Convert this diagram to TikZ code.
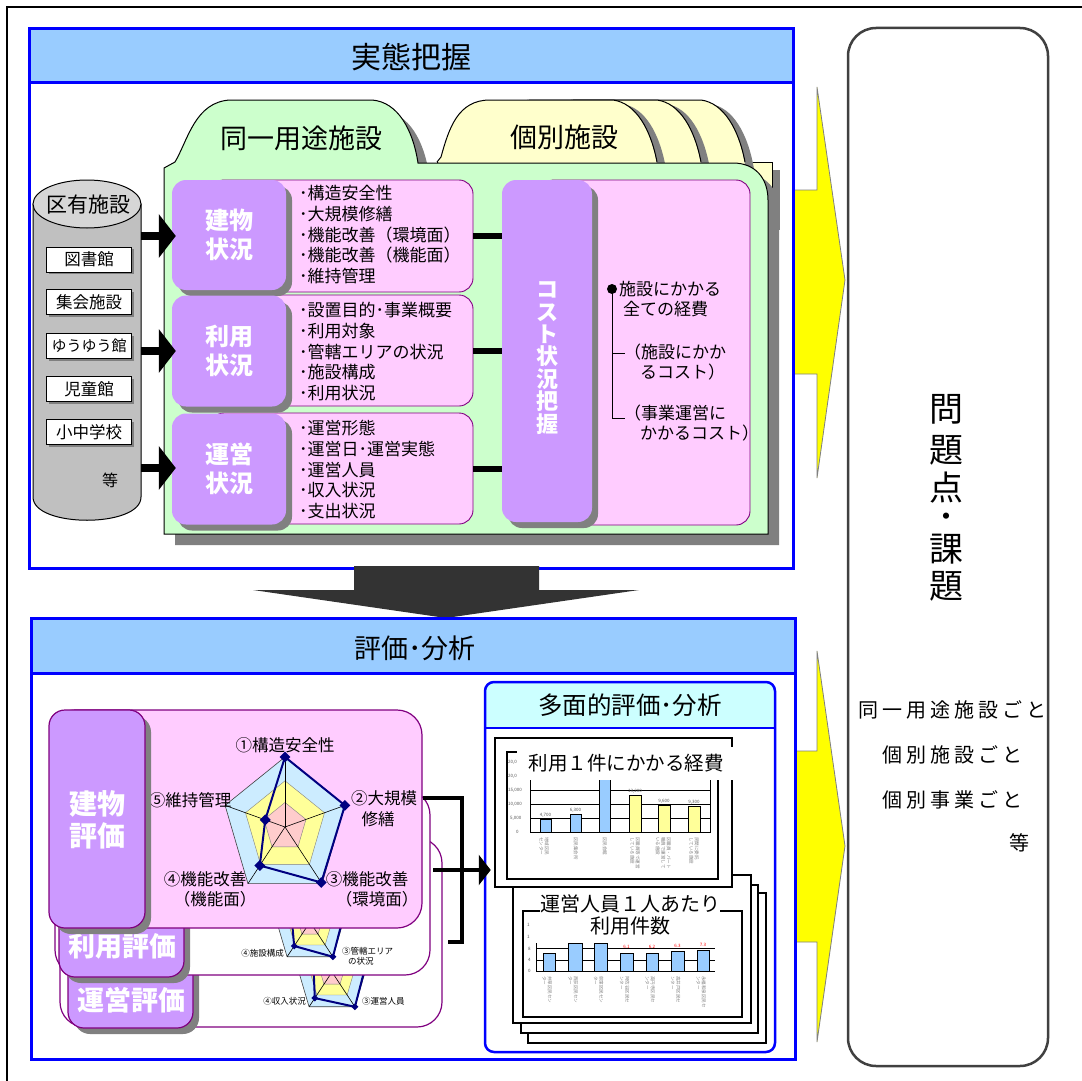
\documentclass[tikz,border=0pt]{standalone}
\usepackage{fontspec}
\setmainfont{Noto Sans CJK JP}
\usetikzlibrary{shapes.geometric,arrows.meta,calc,shadows}
\definecolor{ltblue}{HTML}{99CCFF}
\definecolor{pblue}{HTML}{0000FF}
\definecolor{lgreen}{HTML}{CCFFCC}
\definecolor{lyellow}{HTML}{FFFFCC}
\definecolor{lpink}{HTML}{FFCCFF}
\definecolor{lpurple}{HTML}{CC99FF}
\definecolor{dpurple}{HTML}{800080}
\definecolor{shgray}{HTML}{808080}
\definecolor{cylgray}{HTML}{C0C0C0}
\definecolor{cyltop}{HTML}{D6D6D6}
\definecolor{darrow}{HTML}{333333}
\definecolor{navy}{HTML}{000080}
\definecolor{radblue}{HTML}{CCECFF}
\definecolor{radyel}{HTML}{FFFF99}
\definecolor{radpink}{HTML}{FFCCCC}
\definecolor{cyanish}{HTML}{CCFFFF}
\definecolor{barblue}{HTML}{99CCFF}
\definecolor{baryel}{HTML}{FFFF99}
\definecolor{arrowyel}{HTML}{FFFF00}
\newcommand{\myfs}[2]{\fontsize{#1}{#2}\selectfont}
\def\mks{11}
\newcommand{\radar}[9]{%
 \begin{scope}[shift={(#1,#2)}, xscale=#3, yscale=#4]
 \filldraw[fill=radblue, draw=black!75, line width=0.6] (-90:1) -- (-18:1) -- (54:1) -- (126:1) -- (198:1) -- cycle;
 \filldraw[fill=radyel, draw=black!50, line width=0.4] (-90:0.66) -- (-18:0.66) -- (54:0.66) -- (126:0.66) -- (198:0.66) -- cycle;
 \filldraw[fill=radpink, draw=black!50, line width=0.4] (-90:0.35) -- (-18:0.35) -- (54:0.35) -- (126:0.35) -- (198:0.35) -- cycle;
 \foreach \a in {-90,-18,54,126,198} \draw[line width=0.6] (0,0) -- (\a:1);
 \draw[navy, line width=2] (-90:#5) -- (-18:#6) -- (54:#7) -- (126:#8) -- (198:#9) -- cycle;
 \node[mk] (rd#1a) at (-90:#5) {};
 \node[mk] (rd#1b) at (-18:#6) {};
 \node[mk] (rd#1c) at (54:#7) {};
 \node[mk] (rd#1d) at (126:#8) {};
 \node[mk] (rd#1e) at (198:#9) {};
 \end{scope}}
\tikzset{
 mk/.style={diamond, fill=navy, inner sep=0, minimum width=\mks, minimum height=\mks},
 shad/.style={drop shadow={shadow xshift=6pt, shadow yshift=-6pt, fill=shgray, opacity=1}},
 purplebox/.style={fill=lpurple, rounded corners=14, inner sep=0, shad, text=white, font={\bfseries\myfs{24}{29}}, align=center},
 pinkbox/.style={fill=lpink, draw=dpurple, line width=0.9, rounded corners=14, inner sep=0},
 bul/.style={anchor=west, inner sep=0, font={\myfs{17}{20}}},
 txt/.style={inner sep=0, font={\myfs{17}{20}}},
 facbox/.style={draw, fill=white, line width=0.8, minimum width=85, minimum height=25, inner sep=0, font={\myfs{16.5}{18}}, drop shadow={shadow xshift=2pt, shadow yshift=-2pt, fill=shgray, opacity=1}},
 bigarrow/.style={line width=8, -{Triangle[length=17pt, width=43pt]}},
 conn/.style={line width=6},
 card/.style={draw=dpurple, line width=1.2, rounded corners=25, inner sep=0},
 lab/.style={fill=lpurple, draw=dpurple, line width=1.2, rounded corners=16, inner sep=0, shad},
 labtxt/.style={text=white, font={\bfseries\myfs{27}{31}}, align=center, inner sep=0},
 rlab/.style={inner sep=0, font={\myfs{16.5}{20}}, align=center},
 slab/.style={inner sep=0, font={\myfs{8.5}{10}}, align=left},
 tiny/.style={inner sep=0, font={\myfs{4.5}{5}}, text=black!65},
 cat/.style={inner sep=0, font={\myfs{4.5}{5.5}}, text=black!50, rotate=-90, anchor=north west, align=left},
 chartcard/.style={draw=black, fill=white, line width=1.2},
 bline/.style={line width=4},
 bigq/.style={font={\myfs{34}{34}}, inner sep=0},
 sideline/.style={font={\myfs{20}{20}\addfontfeature{LetterSpace=20}}, inner sep=0},
}
\begin{document}
\begin{tikzpicture}[x=1pt,y=-1pt]
\useasboundingbox (0,0) rectangle (1082,1081);
\fill[white] (0,0) rectangle (1082,1081);
\draw[line width=2] (7,1085) -- (7,7) -- (1085,7);

% yellow block arrows
\filldraw[fill=arrowyel, draw=shgray, line width=0.8] (790,190) -- (817,190) -- (817,87) -- (845,280) -- (817,478) -- (817,374) -- (790,374) -- cycle;
\filldraw[fill=arrowyel, draw=shgray, line width=0.8] (790,751) -- (817,751) -- (817,651) -- (845,846) -- (817,1042) -- (817,942) -- (790,942) -- cycle;

% ================= top panel =================
\draw[pblue, line width=3, fill=white] (29,29) rectangle (793,568);
\fill[ltblue] (29,29) rectangle (793,83);
\draw[pblue, line width=3] (29,29) rectangle (793,568);
\draw[pblue, line width=3] (29,83) -- (793,83);
\node[font={\myfs{30}{30}}] (ttop) at (411,57) {実態把握};

% yellow folders (individual facilities)
\fill[shgray] (445,170) rectangle (780,230);
\filldraw[fill=lyellow, draw=black, line width=1] (437,162) rectangle (772,222);
\foreach \d in {88,44,0} {
 \begin{scope}[xshift=\d]
  \fill[shgray, xshift=9, yshift=-4] (437,165) -- (441,157) .. controls (449,128) and (458,100) .. (490,100) -- (613,100) .. controls (636,103) and (651,130) .. (657,165) -- cycle;
  \fill[lyellow] (437,165) -- (441,157) .. controls (449,128) and (458,100) .. (490,100) -- (613,100) .. controls (636,103) and (651,130) .. (657,165) -- cycle;
  \draw[line width=1] (437,162) -- (441,157) .. controls (449,128) and (458,100) .. (490,100) -- (613,100) .. controls (636,103) and (651,130) .. (657,162);
 \end{scope}
}
\node[font={\myfs{27}{27}}] (kobetsu) at (564,137) {個別施設};

% green folder (same-use facilities)
\fill[shgray, xshift=11, yshift=-11] (164,168) -- (175,162) .. controls (188,140) and (195,102) .. (230,100) -- (372,100) .. controls (398,102) and (413,130) .. (418,163) -- (733,163) .. controls (755,163) and (768,178) .. (768,200) -- (768,534) -- (164,534) -- cycle;
\filldraw[fill=lgreen, draw=black, line width=1] (164,168) -- (175,162) .. controls (188,140) and (195,102) .. (230,100) -- (372,100) .. controls (398,102) and (413,130) .. (418,163) -- (733,163) .. controls (755,163) and (768,178) .. (768,200) -- (768,534) -- (164,534) -- cycle;
\node[font={\myfs{27}{27}}] (doitsu) at (301,138) {同一用途施設};

% cylinder of ward facilities
\filldraw[fill=cylgray, draw=black, line width=1] (33,204) -- (33,497) .. controls (33,528) and (141,528) .. (141,497) -- (141,204) -- cycle;
\filldraw[fill=cyltop, draw=black, line width=1] (87,204) ellipse [x radius=54, y radius=24];
\node[font={\myfs{21}{21}}, inner sep=0] (cyl) at (88,205) {区有施設};
\node[facbox] (f1) at (89,259.5) {図書館};
\node[facbox] (f2) at (89,302) {集会施設};
\node[facbox, font={\myfs{15}{17}}] (f3) at (89,346) {ゆうゆう館};
\node[facbox] (f4) at (89,389) {児童館};
\node[facbox] (f5) at (89,432) {小中学校};
\node[font={\myfs{16}{16}}, inner sep=0] (etc1) at (110,480) {等};

% rows: pink boxes
\node[pinkbox, minimum width=263, minimum height=112] (pr1) at (341.5,236) {};
\node[pinkbox, minimum width=263, minimum height=111] (pr2) at (341.5,350.5) {};
\node[pinkbox, minimum width=263, minimum height=111] (pr3) at (341.5,468.5) {};

% cost column
\node[pinkbox, minimum width=210, minimum height=345] (cpink) at (645,352.5) {};
\node[purplebox, minimum width=90, minimum height=342] (cost) at (547,351) {};
\node[text=white, font={\bfseries\myfs{22}{22.4}}, align=center, inner sep=0] (costtxt) at (547,358) {コ\\ス\\ト\\状\\況\\把\\握};

% purple row labels
\node[purplebox, minimum width=114, minimum height=110] (sb1) at (229,235) {建物\\状況};
\node[purplebox, minimum width=114, minimum height=111] (sb2) at (229,351) {利用\\状況};
\node[purplebox, minimum width=114, minimum height=111] (sb3) at (229,469) {運営\\状況};

% arrows from the cylinder
\coordinate (ca1) at (141,236);
\coordinate (ca2) at (141,351);
\coordinate (ca3) at (141,468);
\draw[bigarrow] (ca1) -- ([xshift=4pt]sb1.west |- ca1);
\draw[bigarrow] (ca2) -- ([xshift=4pt]sb2.west |- ca2);
\draw[bigarrow] (ca3) -- ([xshift=4pt]sb3.west |- ca3);

% bullet lists
\foreach \t [count=\i] in {構造安全性,大規模修繕,機能改善（環境面）,機能改善（機能面）,維持管理}
  \node[bul] (ba\i) at (299,{193+20.8*(\i-1)}) {･\t};
\foreach \t [count=\i] in {設置目的･事業概要,利用対象,管轄エリアの状況,施設構成,利用状況}
  \node[bul] (bb\i) at (299,{310+20.8*(\i-1)}) {･\t};
\foreach \t [count=\i] in {運営形態,運営日･運営実態,運営人員,収入状況,支出状況}
  \node[bul] (bc\i) at (299,{428+20.8*(\i-1)}) {･\t};

% connectors rows -> cost
\draw[conn] (pr1.east) -- (pr1.east -| cost.west);
\draw[conn] (pr2.east) -- (pr2.east -| cost.west);
\draw[conn] (pr3.east) -- (pr3.east -| cost.west);

% cost contents
\node[circle, fill=black, inner sep=0, minimum size=10] (dot) at (612,289) {};
\coordinate (br1) at (625,353);
\coordinate (br2) at (625,418);
\draw[line width=0.9] (dot.center) |- (br2);
\draw[line width=0.9] (dot.center |- br1) -- (br1);
\node[txt, anchor=west] (c1) at (619,289) {施設にかかる};
\node[txt, anchor=west] (c2) at (623,309) {全ての経費};
\node[txt, anchor=west] (c3) at (624,352) {（施設にかか};
\node[txt, anchor=west] (c4) at (640,372) {るコスト）};
\node[txt, anchor=west] (c5) at (624,413) {（事業運営に};
\node[txt, anchor=west] (c6) at (640,433) {かかるコスト）};

% down arrow
\fill[darrow] (354,566) -- (539,566) -- (539,590) -- (639,590) -- (446,618) -- (253,590) -- (354,590) -- cycle;

% ================= lower panel =================
\draw[pblue, line width=3, fill=white] (31,618) rectangle (795,1059);
\fill[ltblue] (31,618) rectangle (795,673);
\draw[pblue, line width=3] (31,618) rectangle (795,1059);
\draw[pblue, line width=3] (31,673) -- (795,673);
\node[font={\myfs{27}{27}}] (tbot) at (415,648) {評価･分析};

% back card (operation evaluation)
\node[card, fill=white, minimum width=382, minimum height=189] (card3) at (251,932.5) {};
\def\mks{7}
\radar{332}{972}{39}{43}{0.8}{0.95}{1}{0.75}{0.5}
\node[slab, anchor=east] (l34) at (306,1001) {④収入状況};
\node[slab, anchor=west] (l33) at (362,1001) {③運営人員};
\node[lab, minimum width=125, minimum height=148] (lab3) at (130.5,954) {};
\node[labtxt] (lab3t) at (131,1000) {運営評価};

% middle card (use evaluation)
\node[card, fill=white, minimum width=375, minimum height=185] (card2) at (242.5,882.5) {};
\radar{310}{922}{39}{43}{0.8}{0.95}{1}{0.69}{0.5}
\node[slab, anchor=east] (l24) at (284,953) {④施設構成};
\node[slab, anchor=north west] (l23) at (342,947) {③管轄エリア\\\hspace*{6pt}の状況};
\node[lab, minimum width=125, minimum height=150] (lab2) at (121.5,902) {};
\node[labtxt] (lab2t) at (122,946) {利用評価};

% front card (building evaluation)
\node[card, fill=lpink, minimum width=372, minimum height=218] (card1) at (236,819) {};
\def\mks{11}
\radar{285}{827}{63}{70}{1}{1}{0.98}{0.68}{0.33}
\node[rlab] (r1) at (285,745) {①構造安全性};
\node[rlab] (r5) at (190,800) {⑤維持管理};
\node[rlab] (r2) at (384,798) {②大規模};
\node[rlab] (r2b) at (378,819) {修繕};
\node[rlab] (r4) at (205,879) {④機能改善};
\node[rlab] (r4b) at (215,899) {（機能面）};
\node[rlab] (r3) at (367,879) {③機能改善};
\node[rlab] (r3b) at (377,899) {（環境面）};
\node[lab, minimum width=96, minimum height=218] (lab1) at (97,819) {};
\node[labtxt, font={\bfseries\myfs{28}{32}}] (lab1t) at (97,820) {建物\\評価};

% multi-faceted evaluation box
\begin{scope}
\path[clip, rounded corners=9] (485,682) rectangle (775,1052);
\fill[white] (485,682) rectangle (775,1052);
\fill[cyanish] (485,682) rectangle (775,728);
\end{scope}
\draw[pblue, line width=2] (485,728) -- (775,728);
\node[draw=pblue, line width=2.5, rounded corners=9, minimum width=290, minimum height=370, inner sep=0] (multi) at (630,867) {};
\node[font={\myfs{24.5}{24.5}}] (multit) at (630,705) {多面的評価･分析};

% chart 2 stack
\draw[chartcard] (528,893) rectangle (766,1043);
\draw[chartcard] (521,885) rectangle (758,1033);
\node[chartcard, minimum width=238, minimum height=148, inner sep=0] (ch2) at (632,949) {};
\draw[line width=1.2] (523,911) rectangle (742,1017);
% chart 2 plot
\draw[line width=0.5] (536,943) -- (536,971) -- (715,971);
\draw[line width=0.5] (536,948) -- (715,948);
\draw[line width=0.5] (536,960) -- (715,960);
\foreach \xa/\xb/\yt in {543/555/953, 568/582/943, 594/607/943, 620/633/953, 646/658/953, 671/684/951, 697/709/950}
  \filldraw[fill=barblue, draw=black, line width=0.6] (\xa,\yt) rectangle (\xb,971);
\node[tiny, anchor=west] (y21) at (527,925) {1};
\node[tiny, anchor=west] (y22) at (527,937) {1};
\node[tiny, anchor=west] (y23) at (528,949) {8};
\node[tiny, anchor=west] (y24) at (528,960) {4};
\node[tiny, anchor=west] (y25) at (528,971) {0};
\node[tiny, text=red] (v24) at (626.5,947) {6.1};
\node[tiny, text=red] (v25) at (652,947) {6.2};
\node[tiny, text=red] (v26) at (677.5,946) {6.3};
\node[tiny, text=red] (v27) at (703,945) {7.3};
\node[cat] (k21) at (552,976) {井草区民セン\\ター};
\node[cat] (k22) at (578,976) {西荻区民セン\\ター};
\node[cat] (k23) at (603.5,976) {荻窪区民セン\\ター};
\node[cat] (k24) at (629.5,976) {阿佐谷区民セ\\ンター};
\node[cat] (k25) at (655,976) {高円寺区民セ\\ンター};
\node[cat] (k26) at (680.5,976) {高井戸区民セ\\ンター};
\node[cat] (k27) at (706,976) {永福和泉区民セ\\ンター};
\node[fill=white, inner sep=0, minimum width=178, minimum height=44, font={\myfs{20}{21.5}}, align=center] (ch2t) at (630,915) {運営人員１人あたり\\利用件数};

% chart 1
\node[chartcard, minimum width=237, minimum height=149, inner sep=0] (ch1) at (613.5,812.5) {};
\draw[line width=1.2] (507,752) rectangle (718,879);
\draw[line width=0.5] (530,776) -- (530,832) -- (710,832) -- (710,776);
\foreach \yy in {790,804,818} \draw[line width=0.5] (530,\yy) -- (710,\yy);
\filldraw[fill=barblue, draw=black, line width=0.6] (540,819) rectangle (551,832);
\filldraw[fill=barblue, draw=black, line width=0.6] (570,814) rectangle (581,832);
\filldraw[fill=barblue, draw=black, line width=0.6] (599,776) rectangle (610,832);
\filldraw[fill=baryel, draw=black, line width=0.6] (629,795) rectangle (641,832);
\filldraw[fill=baryel, draw=black, line width=0.6] (658,805) rectangle (670,832);
\filldraw[fill=baryel, draw=black, line width=0.6] (688,806) rectangle (700,832);
\node[tiny, anchor=west] (y11) at (508,762) {20,000};
\node[tiny, anchor=west] (y12) at (508,776) {20,000};
\node[tiny, anchor=west] (y13) at (508,790) {15,000};
\node[tiny, anchor=west] (y14) at (508,804) {10,000};
\node[tiny, anchor=west] (y15) at (510,818) {5,000};
\node[tiny, anchor=west] (y16) at (516,832) {0};
\node[tiny] (v11) at (545.5,815) {4,700};
\node[tiny] (v12) at (575.5,810) {6,300};
\node[tiny] (v14) at (635,791) {13,200};
\node[tiny] (v15) at (664,801) {9,600};
\node[tiny] (v16) at (694,802) {9,300};
\node[cat] (k11) at (549,837) {地域区民\\センター};
\node[cat] (k12) at (578,837) {区民集会所};
\node[cat] (k13) at (607,837) {区民会館};
\node[cat] (k14) at (640,837) {区職員等で運営\\している施設};
\node[cat] (k15) at (671,837) {区職員・パート\\職員で運営して\\いる施設};
\node[cat] (k16) at (699,837) {民間に委託\\している施設};
\node[fill=white, inner sep=0, minimum width=218, minimum height=33, font={\myfs{19.5}{20}}] (ch1t) at (626,763.5) {利用１件にかかる経費};

% bracket and arrow to analysis box
\coordinate (k1) at (462,798);
\coordinate (k2) at (462,942);
\coordinate (k3) at (433,870);
\draw[bline] (card1.east |- k1) -- (k1) -- (k2) -- ([xshift=5pt]card3.east |- k2);
\draw[bline, -{Triangle[length=12pt, width=30pt]}] (k3) -- ([xshift=7pt]multi.west |- k3);

% ================= right box =================
\node[draw=black!75, line width=2.5, fill=white, rounded corners=28, minimum width=200, minimum height=1038, inner sep=0] (issues) at (948,547) {};
\node[bigq] (q1) at (946,409) {問};
\node[bigq] (q2) at (946,450) {題};
\node[bigq] (q3) at (946,488) {点};
\node[font={\bfseries\myfs{22}{22}}, inner sep=0] (q4) at (946,519) {・};
\node[bigq] (q5) at (946,549) {課};
\node[bigq] (q6) at (946,586) {題};
\node[sideline] (s1) at (952,710) {同一用途施設ごと};
\node[sideline] (s2) at (952,755) {個別施設ごと};
\node[sideline] (s3) at (952,800) {個別事業ごと};
\node[font={\myfs{20}{20}}, inner sep=0] (s4) at (1019,843) {等};
\end{tikzpicture}
\end{document}
